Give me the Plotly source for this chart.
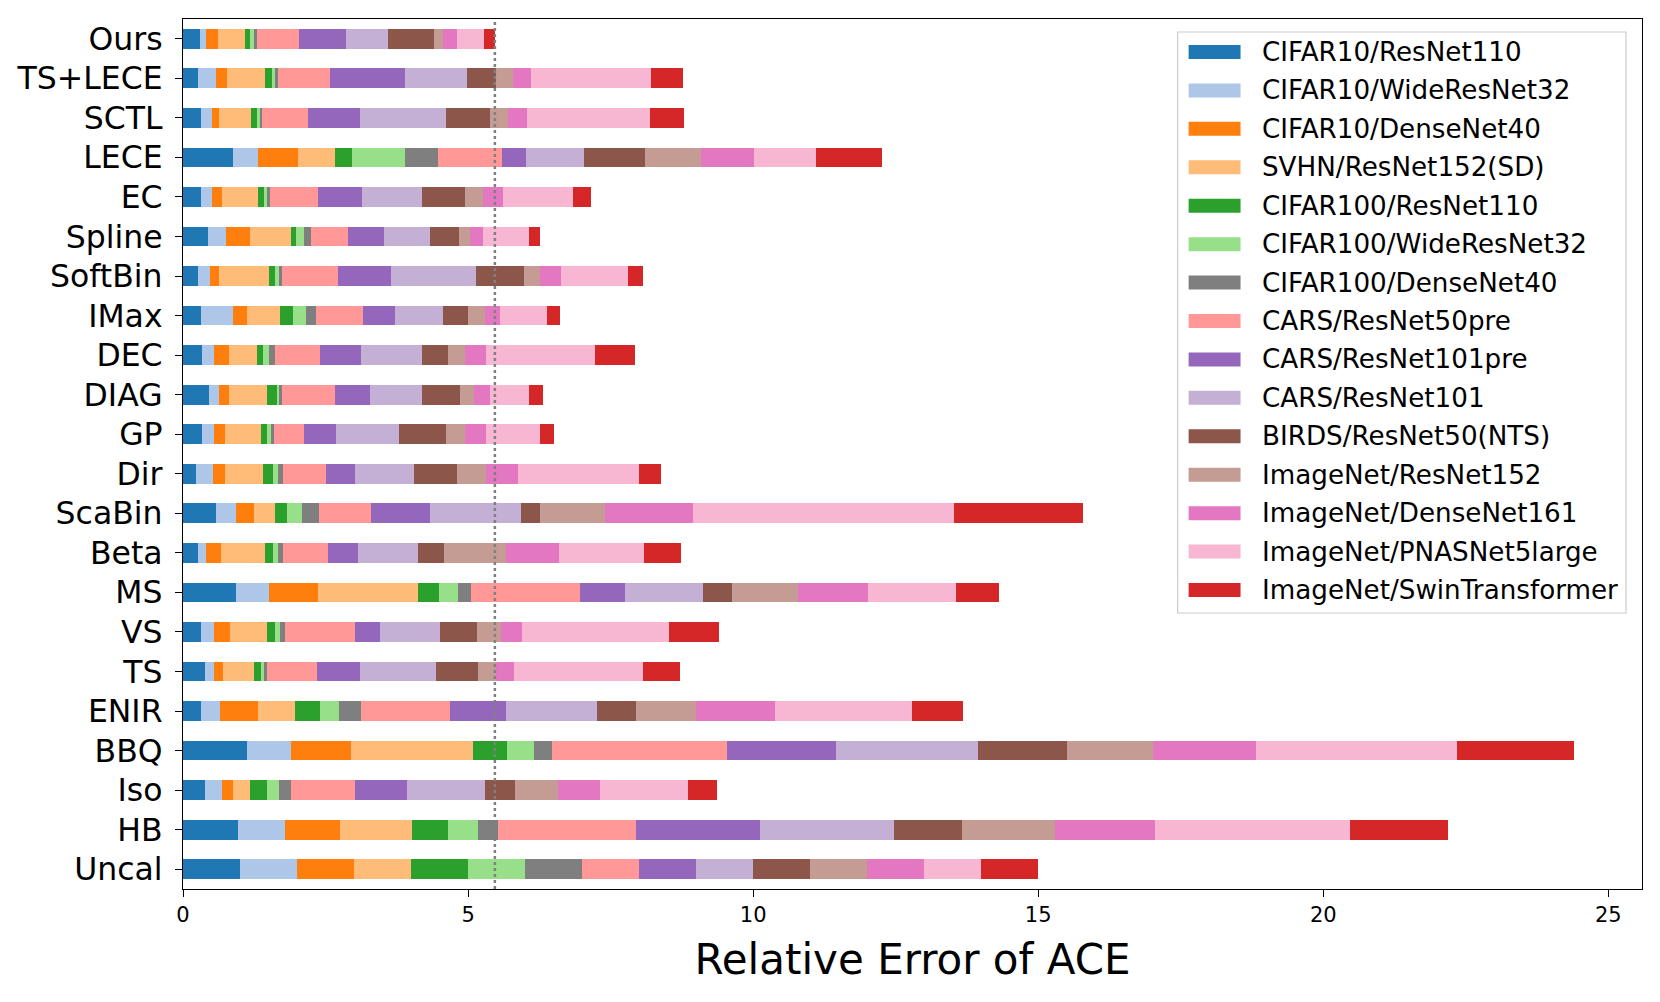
import plotly.graph_objects as go

# Methods, top to bottom as shown
methods = ["Ours", "TS+LECE", "SCTL", "LECE", "EC", "Spline", "SoftBin", "IMax", "DEC",
           "DIAG", "GP", "Dir", "ScaBin", "Beta", "MS", "VS", "TS", "ENIR", "BBQ",
           "Iso", "HB", "Uncal"]

series_names = ["CIFAR10/ResNet110", "CIFAR10/WideResNet32", "CIFAR10/DenseNet40",
                "SVHN/ResNet152(SD)", "CIFAR100/ResNet110", "CIFAR100/WideResNet32",
                "CIFAR100/DenseNet40", "CARS/ResNet50pre", "CARS/ResNet101pre",
                "CARS/ResNet101", "BIRDS/ResNet50(NTS)", "ImageNet/ResNet152",
                "ImageNet/DenseNet161", "ImageNet/PNASNet5large", "ImageNet/SwinTransformer"]

series_colors = ["#1f77b4", "#aec7e8", "#ff7f0e", "#ffbb78", "#2ca02c", "#98df8a",
                 "#7f7f7f", "#ff9896", "#9467bd", "#c5b0d5", "#8c564b", "#c49c94",
                 "#e377c2", "#f7b6d2", "#d62728"]

# Relative error of ACE per method, one value per dataset/model (series order above)
ours    = [0.29, 0.12, 0.20, 0.47, 0.09, 0.07, 0.05, 0.75, 0.82, 0.74, 0.80, 0.16, 0.25, 0.47, 0.19]
ts_lece = [0.27, 0.30, 0.20, 0.67, 0.12, 0.05, 0.06, 0.90, 1.33, 1.08, 0.51, 0.29, 0.32, 2.10, 0.57]
sctl    = [0.32, 0.19, 0.13, 0.55, 0.11, 0.05, 0.04, 0.81, 0.90, 1.52, 0.76, 0.32, 0.34, 2.15, 0.59]
lece    = [0.88, 0.44, 0.70, 0.65, 0.29, 0.93, 0.58, 1.12, 0.43, 1.01, 1.07, 0.99, 0.93, 1.09, 1.15]
ec      = [0.31, 0.19, 0.18, 0.63, 0.11, 0.05, 0.05, 0.85, 0.77, 1.06, 0.74, 0.32, 0.35, 1.23, 0.31]
spline  = [0.43, 0.33, 0.41, 0.72, 0.09, 0.15, 0.12, 0.65, 0.63, 0.81, 0.50, 0.19, 0.23, 0.80, 0.21]
softbin = [0.27, 0.20, 0.16, 0.88, 0.11, 0.06, 0.05, 0.98, 0.93, 1.50, 0.84, 0.29, 0.36, 1.17, 0.26]
imax    = [0.31, 0.56, 0.26, 0.57, 0.23, 0.22, 0.18, 0.83, 0.56, 0.84, 0.44, 0.30, 0.26, 0.82, 0.23]
dec     = [0.34, 0.20, 0.27, 0.49, 0.10, 0.10, 0.12, 0.78, 0.72, 1.07, 0.45, 0.31, 0.37, 1.91, 0.70]
diag    = [0.46, 0.18, 0.16, 0.68, 0.16, 0.06, 0.03, 0.93, 0.62, 0.92, 0.65, 0.26, 0.28, 0.67, 0.26]
gp      = [0.34, 0.20, 0.19, 0.63, 0.11, 0.07, 0.05, 0.53, 0.57, 1.09, 0.84, 0.33, 0.36, 0.96, 0.23]
dirc    = [0.22, 0.31, 0.20, 0.68, 0.17, 0.08, 0.10, 0.74, 0.51, 1.05, 0.75, 0.50, 0.56, 2.13, 0.39]
scabin  = [0.57, 0.36, 0.32, 0.36, 0.22, 0.26, 0.30, 0.91, 1.04, 1.59, 0.33, 1.15, 1.53, 4.59, 2.26]
beta    = [0.26, 0.15, 0.25, 0.77, 0.15, 0.08, 0.09, 0.80, 0.52, 1.05, 0.45, 1.09, 0.93, 1.50, 0.64]
ms      = [0.93, 0.57, 0.86, 1.76, 0.37, 0.33, 0.23, 1.91, 0.80, 1.36, 0.51, 1.16, 1.22, 1.55, 0.76]
vs      = [0.31, 0.23, 0.28, 0.65, 0.14, 0.09, 0.09, 1.22, 0.44, 1.05, 0.65, 0.43, 0.37, 2.58, 0.87]
ts      = [0.38, 0.17, 0.16, 0.53, 0.12, 0.06, 0.05, 0.88, 0.75, 1.34, 0.74, 0.31, 0.32, 2.25, 0.65]
enir    = [0.32, 0.33, 0.67, 0.65, 0.44, 0.33, 0.38, 1.57, 0.98, 1.59, 0.69, 1.04, 1.39, 2.40, 0.90]
bbq     = [1.12, 0.77, 1.05, 2.15, 0.60, 0.47, 0.32, 3.06, 1.91, 2.49, 1.57, 1.51, 1.80, 3.52, 2.05]
iso     = [0.38, 0.31, 0.18, 0.30, 0.30, 0.22, 0.21, 1.12, 0.91, 1.36, 0.54, 0.74, 0.75, 1.54, 0.50]
hb      = [0.97, 0.82, 0.96, 1.27, 0.63, 0.52, 0.36, 2.41, 2.18, 2.35, 1.20, 1.62, 1.75, 3.42, 1.72]
uncal   = [1.00, 1.00, 1.00, 1.00, 1.00, 1.00, 1.00, 1.00, 1.00, 1.00, 1.00, 1.00, 1.00, 1.00, 1.00]

rows = [ours, ts_lece, sctl, lece, ec, spline, softbin, imax, dec, diag, gp, dirc,
        scabin, beta, ms, vs, ts, enir, bbq, iso, hb, uncal]

x_ticks = [0, 5, 10, 15, 20, 25]

FONT = "DejaVu Sans"
OFF = 8                            # default page body margin
W, H = 1660 - 2 * OFF, 1002 - 2 * OFF
L, R, T, B = 182, 1643, 19, 889    # plot-area box in window pixels

fig = go.Figure()
for j, name in enumerate(series_names):
    fig.add_trace(go.Bar(
        x=[row[j] for row in rows], y=methods, orientation="h", name=name,
        marker=dict(color=series_colors[j], line=dict(width=0)),
        width=0.5, showlegend=False))

# dotted reference line at the total of "Ours"
ours_total = sum(ours)
fig.add_shape(type="line", xref="x", yref="paper", x0=ours_total, x1=ours_total,
              y0=0, y1=1, line=dict(color="#808080", width=2.5, dash="dot"), layer="above")

# Manual legend (matplotlib-style wide swatches)
def px(X):
    return (X - L) / (R - L)

def py(Y):
    return (B - Y) / (B - T)

fig.add_shape(type="rect", xref="paper", yref="paper", x0=px(1178), x1=px(1627),
              y0=py(613), y1=py(32), line=dict(color="#cccccc", width=1.2),
              fillcolor="rgba(255,255,255,0.85)", layer="above")
step = 38.43
for i, name in enumerate(series_names):
    yc = 52 + step * i
    fig.add_shape(type="rect", xref="paper", yref="paper", x0=px(1189), x1=px(1241),
                  y0=py(yc + 7), y1=py(yc - 7), line=dict(width=0),
                  fillcolor=series_colors[i], layer="above")
    fig.add_annotation(xref="paper", yref="paper", x=px(1260), y=py(yc), text=name,
                       showarrow=False, xanchor="left", yanchor="middle",
                       font=dict(family=FONT, size=26.2, color="black"))

fig.update_layout(
    width=W, height=H, autosize=False,
    barmode="stack", bargap=0.5,
    paper_bgcolor="white", plot_bgcolor="white",
    margin=dict(l=L - OFF, r=W - (R - OFF), t=T - OFF, b=H - (B - OFF), pad=0),
    font=dict(family=FONT, color="black"),
    showlegend=False,
)
fig.update_xaxes(
    range=[0, 25.59], tickmode="array", tickvals=x_ticks, ticktext=[str(v) for v in x_ticks],
    showgrid=False, zeroline=False, showline=True, linecolor="black", linewidth=1.3,
    mirror=True, ticks="outside", ticklen=7, tickwidth=1.3, tickcolor="black",
    tickfont=dict(family=FONT, size=21, color="black"),
    title=dict(text="Relative Error of ACE", font=dict(family=FONT, size=42, color="black"),
               standoff=18),
)
fig.update_yaxes(
    categoryorder="array", categoryarray=methods,
    range=[len(methods) - 0.5, -0.5],
    showgrid=False, zeroline=False, showline=True, linecolor="black", linewidth=1.3,
    mirror=True, ticks="outside", ticklen=7, tickwidth=1.3, tickcolor="black",
    tickfont=dict(family=FONT, size=31.5, color="black"), ticklabelstandoff=6,
)

fig.write_html("out.html")
